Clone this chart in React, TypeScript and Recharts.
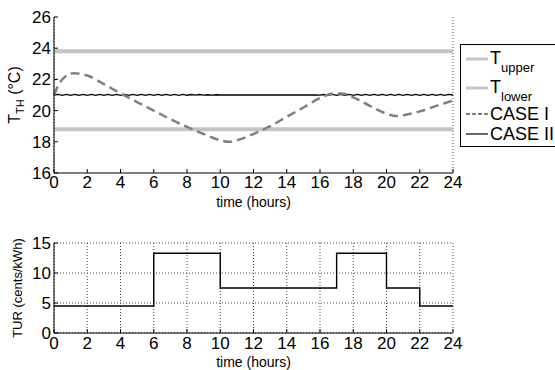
import { LineChart, Line, XAxis, YAxis, CartesianGrid } from "recharts";

// hours on the x axis
const hourTicks = [0, 2, 4, 6, 8, 10, 12, 14, 16, 18, 20, 22, 24];
const tempTicks = [16, 18, 20, 22, 24, 26];
const turTicks = [0, 5, 10, 15];

// comfort band
const tUpper = 23.8;
const tLower = 18.8;

// CASE I room temperature (dashed)
const caseOneHours = [0, 0.3, 0.7, 1.2, 2, 3, 4, 5, 6, 7, 8, 9, 10, 10.5, 11, 12, 13, 14, 15, 16, 16.8, 17.3, 18, 19, 20, 20.6, 21, 22, 23, 24];
const caseOneTemp = [21.0, 21.7, 22.2, 22.4, 22.25, 21.7, 21.1, 20.55, 20.0, 19.45, 18.95, 18.5, 18.1, 18.0, 18.1, 18.5, 19.0, 19.6, 20.2, 20.8, 21.1, 21.1, 20.85, 20.3, 19.8, 19.65, 19.7, 19.95, 20.3, 20.65];

// CASE II room temperature (held near 21 with small chatter), every quarter hour
const caseTwoTemp = [
  21.0, 21.04, 20.98, 21.04, 20.98, 21.04, 20.98, 21.04, 20.98, 21.04,
  20.98, 21.04, 20.98, 21.04, 20.98, 21.04, 20.98, 21.04, 20.98, 21.04,
  20.98, 21.04, 20.98, 21.04, 20.98, 21.04, 20.98, 21.04, 20.98, 21.04,
  20.98, 21.04, 20.98, 21.03, 20.99, 21.03, 20.99, 21.02, 20.99, 21.02,
  21.0, 21.01, 21.0, 21.01, 21.0, 21.01, 21.0, 21.01, 21.0, 21.01,
  21.0, 21.01, 21.0, 21.01, 21.0, 21.01, 21.0, 21.01, 21.0, 21.01,
  21.0, 21.01, 21.0, 21.01, 20.99, 21.03, 20.98, 21.04, 20.98, 21.05,
  20.98, 21.04, 20.98, 21.04, 20.98, 21.04, 20.98, 21.04, 20.98, 21.04,
  20.98, 21.04, 20.98, 21.04, 20.98, 21.04, 20.98, 21.04, 20.98, 21.04,
  20.98, 21.04, 20.98, 21.04, 20.98, 21.04, 21.0,
];

// time-of-use rate steps
const turHours = [0, 6, 10, 17, 20, 22, 24];
const turRate = [4.5, 13.3, 7.5, 13.3, 7.5, 4.5, 4.5];

const caseOneData = caseOneHours.map((t, i) => ({ t, v: caseOneTemp[i] }));
const caseTwoData = caseTwoTemp.map((v, i) => ({ t: i * 0.25, v }));
const upperData = [{ t: 0, v: tUpper }, { t: 24, v: tUpper }];
const lowerData = [{ t: 0, v: tLower }, { t: 24, v: tLower }];
const turData = turHours.map((t, i) => ({ t, v: turRate[i] }));

const font = "'Liberation Sans', Arial, Helvetica, sans-serif";
const tickStyle = { fill: "#000", fontSize: 17, fontFamily: font };
const axisLine = { stroke: "#000", strokeWidth: 1 };

function TempLabel() {
  return (
    <text
      x={20}
      y={95}
      transform="rotate(-90 20 95)"
      textAnchor="middle"
      fontSize={16}
      fontFamily={font}
      fill="#000"
    >
      T<tspan fontSize={11} dy={4}>TH</tspan>
      <tspan dy={-4}> (°C)</tspan>
    </text>
  );
}

function TurLabel() {
  return (
    <text
      x={22}
      y={288}
      transform="rotate(-90 22 288)"
      textAnchor="middle"
      fontSize={13}
      fontFamily={font}
      fill="#000"
    >
      TUR (cents/kWh)
    </text>
  );
}

const legendItems = [
  { name: "T", sub: "upper", color: "#c4c4c4", dash: false, width: 3, center: 59 },
  { name: "T", sub: "lower", color: "#c4c4c4", dash: false, width: 3, center: 88 },
  { name: "CASE I", sub: "", color: "#808080", dash: true, width: 2, center: 114 },
  { name: "CASE II", sub: "", color: "#000", dash: false, width: 1.2, center: 134 },
];

function LegendBox() {
  const boxTop = 44;
  return (
    <div
      style={{
        position: "absolute",
        left: 460,
        top: boxTop,
        width: 100,
        height: 103,
        border: "1px solid #000",
        background: "#fff",
        fontFamily: font,
        fontSize: 18,
        boxSizing: "border-box",
      }}
    >
      {legendItems.map((it) => (
        <div
          key={it.name + it.sub}
          style={{
            position: "absolute",
            left: 4,
            top: it.center - boxTop - 11,
            height: 20,
            display: "flex",
            alignItems: "center",
            whiteSpace: "nowrap",
            lineHeight: "20px",
          }}
        >
          <svg width={24} height={6} style={{ marginRight: 1 }}>
            <line x1={1} y1={3} x2={23} y2={3} stroke={it.color} strokeWidth={it.width} strokeDasharray={it.dash ? "4 2" : undefined} />
          </svg>
          <span>
            {it.name}
            {it.sub && <span style={{ fontSize: 13, position: "relative", top: 8 }}>{it.sub}</span>}
          </span>
        </div>
      ))}
    </div>
  );
}

export default function App() {
  return (
    <div
      style={{
        position: "absolute",
        left: 0,
        top: 0,
        width: 555,
        height: 370,
        background: "#fff",
        overflow: "hidden",
        fontFamily: font,
      }}
    >
      <div style={{ position: "absolute", left: 0, top: 0 }}>
        <LineChart width={555} height={215} margin={{ top: 17, right: 102, left: 0, bottom: 0 }}>
          <CartesianGrid horizontal={false} stroke="#444" strokeDasharray="1 2" />
          <XAxis
            xAxisId="b"
            dataKey="t"
            type="number"
            domain={[0, 24]}
            ticks={hourTicks}
            height={42}
            axisLine={axisLine}
            tickLine={{ stroke: "#000" }}
            tickSize={-4}
            tickMargin={7}
            tick={tickStyle}
            allowDuplicatedCategory={false}
            label={{ value: "time (hours)", position: "insideBottom", offset: 8, fontSize: 14, fill: "#000", fontFamily: font }}
          />
          <XAxis xAxisId="top" orientation="top" dataKey="t" type="number" domain={[0, 24]} ticks={hourTicks} height={0} axisLine={axisLine} tickLine={{ stroke: "#000" }} tickSize={-4} tick={false} />
          <YAxis
            yAxisId="l"
            type="number"
            domain={[16, 26]}
            ticks={tempTicks}
            width={54}
            axisLine={axisLine}
            tickLine={{ stroke: "#000" }}
            tickSize={-4}
            tickMargin={7}
            tick={tickStyle}
            interval={0}
          />
          <YAxis yAxisId="r" orientation="right" type="number" domain={[16, 26]} ticks={tempTicks} width={0} axisLine={axisLine} tickLine={{ stroke: "#000" }} tickSize={-4} tick={false} />
          <Line xAxisId="b" yAxisId="l" data={upperData} dataKey="v" stroke="#c4c4c4" strokeWidth={4} dot={false} isAnimationActive={false} />
          <Line xAxisId="b" yAxisId="l" data={lowerData} dataKey="v" stroke="#c4c4c4" strokeWidth={4} dot={false} isAnimationActive={false} />
          <Line xAxisId="b" yAxisId="l" data={caseTwoData} dataKey="v" type="linear" stroke="#000" strokeWidth={1.4} dot={false} isAnimationActive={false} />
          <Line xAxisId="b" yAxisId="l" data={caseOneData} dataKey="v" type="monotone" stroke="#808080" strokeWidth={2.5} strokeDasharray="9 5" dot={false} isAnimationActive={false} />
        </LineChart>
      </div>
      <div style={{ position: "absolute", left: 0, top: 0 }}>
        <LineChart width={555} height={370} data={turData} margin={{ top: 243, right: 102, left: 0, bottom: 0 }}>
          <CartesianGrid stroke="#444" strokeDasharray="1 2" xAxisId="b" yAxisId="l" />
          <XAxis
            xAxisId="b"
            dataKey="t"
            type="number"
            domain={[0, 24]}
            ticks={hourTicks}
            height={37}
            axisLine={axisLine}
            tickLine={{ stroke: "#000" }}
            tickSize={-4}
            tickMargin={8}
            tick={tickStyle}
            label={{ value: "time (hours)", position: "insideBottom", offset: 3, fontSize: 14, fill: "#000", fontFamily: font }}
          />
          <XAxis xAxisId="top" orientation="top" dataKey="t" type="number" domain={[0, 24]} ticks={hourTicks} height={0} axisLine={axisLine} tickLine={{ stroke: "#000" }} tickSize={-4} tick={false} />
          <YAxis
            yAxisId="l"
            type="number"
            domain={[0, 15]}
            ticks={turTicks}
            width={54}
            axisLine={axisLine}
            tickLine={{ stroke: "#000" }}
            tickSize={-4}
            tickMargin={7}
            tick={tickStyle}
            interval={0}
          />
          <YAxis yAxisId="r" orientation="right" type="number" domain={[0, 15]} ticks={turTicks} width={0} axisLine={axisLine} tickLine={{ stroke: "#000" }} tickSize={-4} tick={false} />
          <Line xAxisId="b" yAxisId="l" dataKey="v" type="stepAfter" stroke="#000" strokeWidth={1.4} dot={false} isAnimationActive={false} />
        </LineChart>
      </div>
      <svg width={555} height={370} style={{ position: "absolute", left: 0, top: 0, pointerEvents: "none" }}>
        <TempLabel />
        <TurLabel />
      </svg>
      <LegendBox />
    </div>
  );
}
